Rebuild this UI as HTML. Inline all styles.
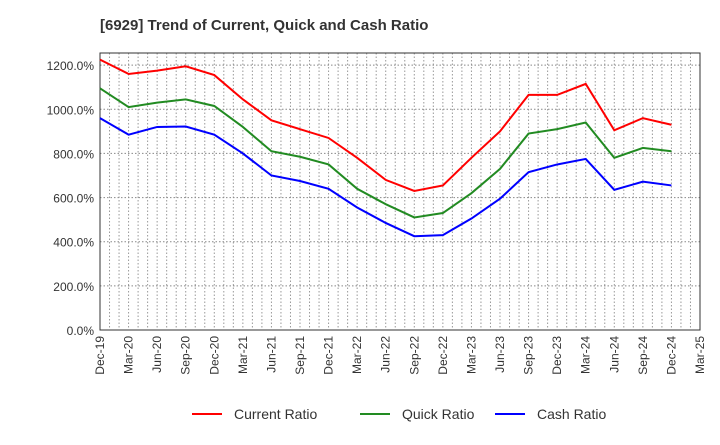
<!DOCTYPE html>
<html><head><meta charset="utf-8"><style>
body{margin:0;background:#fff;font-family:"Liberation Sans",sans-serif}
</style></head><body>
<svg width="720" height="440" id="c" font-family="Liberation Sans, sans-serif">
<text x="100" y="30" font-size="15" font-weight="bold" fill="#333">[6929]  Trend of Current, Quick and Cash Ratio</text>
<g id="grid"></g>
<g id="axes"></g>
<g id="series"></g>
<g>
<g><line x1="192" y1="414" x2="222" y2="414" stroke="#ff0000" stroke-width="2"/><text x="234" y="419" font-size="14" fill="#333">Current Ratio</text></g>
<g><line x1="360" y1="414" x2="390" y2="414" stroke="#228b22" stroke-width="2"/><text x="402" y="419" font-size="14" fill="#333">Quick Ratio</text></g>
<g><line x1="495" y1="414" x2="525" y2="414" stroke="#0000ff" stroke-width="2"/><text x="537" y="419" font-size="14" fill="#333">Cash Ratio</text></g>
</g>
</svg>
<script>
const xLabels=["Dec-19","Mar-20","Jun-20","Sep-20","Dec-20","Mar-21","Jun-21","Sep-21","Dec-21","Mar-22","Jun-22","Sep-22","Dec-22","Mar-23","Jun-23","Sep-23","Dec-23","Mar-24","Jun-24","Sep-24","Dec-24","Mar-25"];
const yTicks=[0,200,400,600,800,1000,1200];
const currentRatio=[1225,1160,1175,1195,1155,1045,950,910,870,780,680,630,655,780,900,1065,1065,1115,905,960,930];
const quickRatio=[1095,1010,1030,1045,1015,920,810,785,750,640,570,510,530,620,730,890,910,940,780,825,810];
const cashRatio=[960,885,920,922,885,800,700,675,640,555,485,425,430,505,595,715,750,775,635,672,655];
const L=100,R=700,T=53,B=330,yMax=1255;
const X=i=>L+(R-L)*i/(xLabels.length-1);
const Y=v=>B-(B-T)*v/yMax;
const NS="http://www.w3.org/2000/svg";
function mk(p,t,a){const e=document.createElementNS(NS,t);for(const k in a)e.setAttribute(k,a[k]);p.appendChild(e);return e;}
const g=document.getElementById('grid'),ax=document.getElementById('axes'),s=document.getElementById('series');
const months=(xLabels.length-1)*3;
for(let m=1;m<months;m++){const x=L+(R-L)*m/months;const l=mk(g,'line',{x1:x,x2:x,y1:T,y2:B,stroke:'#999','stroke-dasharray':'1.5,2','stroke-width':1});

}
yTicks.forEach(v=>{const y=Y(v);if(v>0){const l=mk(g,'line',{x1:L,x2:R,y1:y,y2:y,stroke:'#888','stroke-dasharray':'1.5,2'});

}
const t=mk(ax,'text',{x:L-6,y:y+5,'text-anchor':'end','font-size':12,fill:'#333'});t.textContent=v.toFixed(1)+'%';

});
const fr=mk(ax,'rect',{x:L,y:T,width:R-L,height:B-T,fill:'none',stroke:'#333'});


xLabels.forEach((lb,i)=>{const x=X(i);const t=mk(ax,'text',{transform:`translate(${x+4},${B+6}) rotate(-90)`,'text-anchor':'end','font-size':12,fill:'#333'});t.textContent=lb;

});
[[currentRatio,'#ff0000','current-ratio-line'],[quickRatio,'#228b22','quick-ratio-line'],[cashRatio,'#0000ff','cash-ratio-line']].forEach(([d,c,n])=>{
const p=mk(s,'polyline',{points:d.map((v,i)=>X(i)+','+Y(v)).join(' '),fill:'none',stroke:c,'stroke-width':2});

});
</script>
</body></html>
